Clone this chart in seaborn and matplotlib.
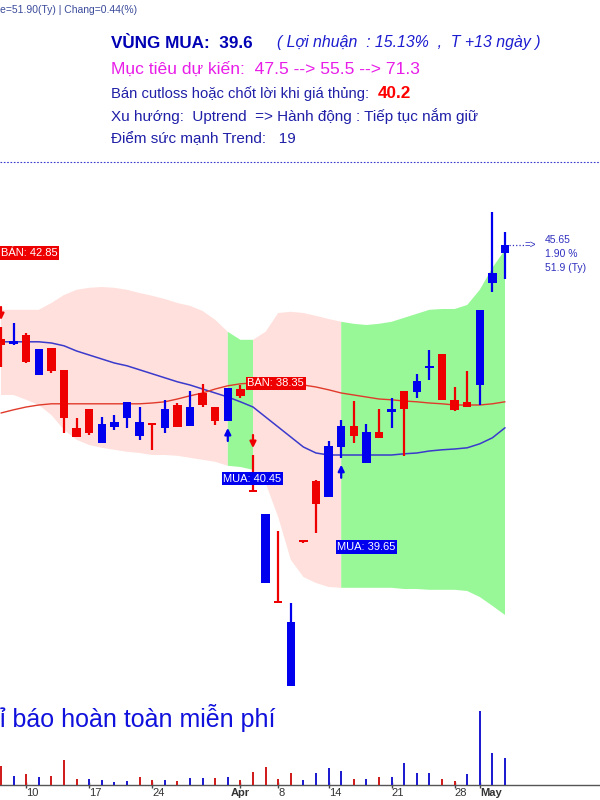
import numpy as np
import pandas as pd
import matplotlib
matplotlib.use("Agg")
import matplotlib.pyplot as plt
import seaborn as sns

# ---- values ----
opens  = [43.30, 43.18, 43.40, 42.40, 43.08, 42.53, 41.08, 41.55, 40.70, 41.10,
          41.33, 40.88, 41.20, 41.08, 41.65, 41.13, 41.95, 41.60, 41.25, 42.05,
          39.50, 37.20, 36.73, 34.63, 38.25, 39.75, 39.35, 40.60, 41.13, 40.20,
          40.98, 41.48, 42.00, 41.98, 42.58, 42.93, 41.78, 41.73, 42.15, 44.70, 45.45]
highs  = [43.60, 43.70, 43.45, 43.05, 43.08, 42.53, 41.33, 41.55, 41.35, 41.40,
          41.73, 41.60, 41.20, 41.78, 41.70, 42.00, 42.18, 41.60, 42.08, 42.15,
          40.40, 38.93, 38.50, 36.70, 38.28, 39.78, 40.75, 41.28, 41.75, 41.18,
          41.55, 41.83, 42.00, 42.43, 43.03, 42.93, 42.10, 42.50, 44.03, 46.48, 45.98]
lows   = [42.60, 43.15, 42.70, 42.40, 42.45, 40.95, 40.85, 40.90, 40.70, 41.03,
          41.08, 40.78, 40.53, 40.95, 41.10, 41.13, 41.60, 41.15, 41.25, 41.83,
          39.48, 37.20, 36.70, 34.63, 38.20, 38.45, 39.35, 40.33, 40.70, 40.20,
          40.83, 41.08, 40.38, 41.83, 42.28, 41.78, 41.50, 41.60, 41.65, 44.48, 44.80]
closes = [43.15, 43.25, 42.73, 43.05, 42.50, 41.33, 40.85, 40.95, 41.18, 41.23,
          41.73, 41.23, 41.15, 41.55, 41.10, 41.60, 41.65, 41.25, 42.08, 41.88,
          39.48, 38.93, 36.70, 36.23, 38.23, 39.18, 40.63, 41.13, 40.88, 40.98,
          40.83, 41.55, 41.55, 42.25, 42.63, 41.78, 41.53, 41.60, 44.03, 44.95, 45.65]

band_upper = [44.03, 44.03, 44.03, 44.03, 44.20, 44.40, 44.53, 44.58, 44.60, 44.58,
              44.53, 44.45, 44.38, 44.30, 44.20, 44.13, 44.00, 43.78, 43.48, 43.28,
              43.28, 43.48, 43.95, 43.98, 43.95, 43.88, 43.80, 43.73, 43.68, 43.65,
              43.68, 43.73, 43.83, 43.93, 44.03, 44.05, 44.05, 44.15, 44.53, 45.08, 45.53]
band_lower = [41.90, 41.90, 41.78, 41.65, 41.40, 41.03, 40.78, 40.65, 40.58, 40.53,
              40.48, 40.45, 40.40, 40.40, 40.38, 40.33, 40.28, 40.23, 40.13, 40.10,
              40.03, 39.70, 38.85, 37.78, 37.35, 37.20, 37.10, 37.08, 37.08, 37.08,
              37.08, 37.08, 37.05, 37.05, 37.03, 37.03, 37.03, 37.00, 36.85, 36.63, 36.40]
green_spans = [(18, 20), (27, 40)]

ma_fast = [43.23, 43.23, 43.23, 43.23, 43.20, 43.13, 43.00, 42.90, 42.80, 42.70,
           42.63, 42.53, 42.43, 42.33, 42.23, 42.15, 42.05, 41.95, 41.85, 41.73,
           41.60, 41.35, 41.10, 40.85, 40.60, 40.45, 40.40, 40.40, 40.40, 40.40,
           40.40, 40.40, 40.43, 40.45, 40.50, 40.53, 40.55, 40.58, 40.68, 40.83, 41.08]
ma_slow = [41.45, 41.53, 41.60, 41.65, 41.68, 41.68, 41.68, 41.68, 41.68, 41.68,
           41.68, 41.68, 41.70, 41.73, 41.80, 41.88, 41.95, 42.05, 42.13, 42.18,
           42.20, 42.20, 42.20, 42.18, 42.15, 42.10, 42.03, 41.95, 41.90, 41.85,
           41.80, 41.78, 41.75, 41.73, 41.70, 41.68, 41.65, 41.65, 41.65, 41.68, 41.73]

volume = [36.5, 17.3, 21.1, 15.4, 17.3, 48.1, 11.5, 11.5, 9.6, 5.8,
          7.7, 15.4, 9.6, 9.6, 7.7, 13.5, 13.5, 13.5, 15.4, 9.6,
          25.0, 34.6, 11.5, 23.1, 9.6, 23.1, 32.7, 26.9, 11.5, 11.5,
          15.4, 15.4, 42.3, 23.1, 23.1, 11.5, 7.7, 21.1, 142.2, 61.5, 51.9]
vol_side = list("rbrbrrrbbbbrrbrbbrbrrrrrbbbbrbrbbbbrrbbbb")

tick_pos = [2, 7, 12, 19, 22, 26, 31, 36, 38]
tick_labels = ["10", "17", "24", "Apr", "8", "14", "21", "28", "May"]

sell_idx = [0, 20]
buy_idx = [18, 27]
signal_labels = [("BÁN: 42.85", 0.0, 45.45, "sell"),
                 ("BÁN: 38.35", 19.55, 42.19, "sell"),
                 ("MUA: 40.45", 17.65, 39.81, "buy"),
                 ("MUA: 39.65", 26.7, 38.10, "buy")]

header_lines = [
    ("VÙNG MUA:  39.6", 111, 43, "#0000b4", "bold", "normal", 12.3),
    ("( Lợi nhuận  : 15.13%  ,  T +13 ngày )", 277, 43, "#1c1cd0", "normal", "italic", 11.4),
    ("Mục tiêu dự kiến:  47.5 --> 55.5 --> 71.3", 111, 69, "#e81ee8", "normal", "normal", 12.6),
    ("Bán cutloss hoặc chốt lời khi giá thủng:", 111, 94, "#1f1fa8", "normal", "normal", 10.6),
    ("40.2", 378, 94, "#ff0000", "bold", "normal", 12.3),
    ("Xu hướng:  Uptrend  => Hành động : Tiếp tục nắm giữ", 111, 116, "#1f1fa8", "normal", "normal", 11),
    ("Điểm sức mạnh Trend:   19", 111, 139, "#1f1fa8", "normal", "normal", 11),
]

RED = "#ee0000"
BLUE = "#0000ee"

sns.set_theme(style="white")
plt.rcParams["font.family"] = ["Liberation Sans", "DejaVu Sans"]

df = pd.DataFrame({"open": opens, "high": highs, "low": lows, "close": closes,
                   "up": band_upper, "dn": band_lower, "fast": ma_fast, "slow": ma_slow,
                   "vol": volume, "vside": vol_side})
df["i"] = np.arange(len(df))
df["col"] = np.where(df["close"] > df["open"], BLUE, RED)

fig = plt.figure(figsize=(6, 8), dpi=100)
fig.patch.set_facecolor("white")

# price panel (y 165..700 px)
ax = fig.add_axes([0, 0.125, 1, 0.66875])

green = np.zeros(len(df), bool)
for a, b in green_spans:
    green[a:b + 1] = True
pink = ~green
for a, b in green_spans:
    pink[a] = True
    pink[b] = True
ax.fill_between(df["i"], df["dn"], df["up"], where=pink, color="#ffe0dc", lw=0, zorder=1)
ax.fill_between(df["i"], df["dn"], df["up"], where=green, color="#98f898", lw=0, zorder=1)

sns.lineplot(x=df["i"], y=df["fast"], color="#3a3acc", lw=1.1, ax=ax, zorder=2)
sns.lineplot(x=df["i"], y=df["slow"], color="#e03a2a", lw=1.0, ax=ax, zorder=2)
ax.set_xlim(-0.079, 47.54)
ax.set_ylim(34.275, 47.65)
ax.axis("off")

# candles
ax.vlines(df["i"], df["low"], df["high"], colors=df["col"], lw=1.6, zorder=3)
body_lo = np.minimum(df["open"], df["close"])
body_h = np.maximum((df["open"] - df["close"]).abs(), 0.04)
ax.bar(df["i"], body_h, bottom=body_lo, width=0.68, color=df["col"], lw=0, zorder=4)

# signal arrows
for i in sell_idx:
    ax.annotate("", xy=(i, df["high"][i]), xytext=(0, 20), textcoords="offset pixels",
                arrowprops=dict(arrowstyle="-|>", color=RED, lw=1.6, mutation_scale=9,
                                shrinkA=0, shrinkB=5), zorder=5)
for i in buy_idx:
    ax.annotate("", xy=(i, df["low"][i]), xytext=(0, -20), textcoords="offset pixels",
                arrowprops=dict(arrowstyle="-|>", color=BLUE, lw=1.6, mutation_scale=9,
                                shrinkA=0, shrinkB=5), zorder=5)

for txt, x, y, kind in signal_labels:
    fc = RED if kind == "sell" else BLUE
    ax.text(x, y, txt, color="white", fontsize=8, ha="left", va="center", zorder=6,
            bbox=dict(boxstyle="square,pad=0.15", fc=fc, ec="none"))

# last price note
last = len(df) - 1
c_last = df["close"][last]
ax.plot([last + 0.3, last + 1.55], [c_last, c_last], ls=":", color="#3030c0", lw=0.9, zorder=5)
ax.annotate("=>", xy=(last, c_last), xytext=(20, 0), textcoords="offset pixels",
            color="#3030c0", fontsize=7, va="center", ha="left")
note = [f"{c_last:.2f}", "1.90 %", f"{volume[last]:.1f} (Ty)"]
for k, s in enumerate(note):
    ax.annotate(s, xy=(last, c_last), xytext=(40, 5 - 14 * k), textcoords="offset pixels",
                color="#3030c0", fontsize=7.5, va="center", ha="left")

# volume panel (baseline near the bottom)
vax = fig.add_axes([0, 15 / 800, 1, 100 / 800])
vax.patch.set_alpha(0)
sns.barplot(x=df["i"], y=df["vol"], hue=df["vside"], palette={"r": RED, "b": BLUE},
            native_scale=True, width=0.17, dodge=False, legend=False, errorbar=None,
            ax=vax, zorder=3, linewidth=0)
vax.set_xlim(-0.079, 47.54)
vax.set_ylim(0, 192.2)
for s in ["top", "left", "right"]:
    vax.spines[s].set_visible(False)
vax.spines["bottom"].set_color("#555555")
vax.spines["bottom"].set_linewidth(1.0)
vax.set_yticks([])
vax.set_xlabel("")
vax.set_ylabel("")
vax.set_xticks(tick_pos)
vax.set_xticklabels(tick_labels)
vax.tick_params(axis="x", direction="inout", length=5, width=1, color="#444444",
                pad=0, labelsize=8, labelcolor="#333333", bottom=True)
for lab in vax.get_xticklabels():
    if lab.get_text() in ("Apr", "May"):
        lab.set_fontweight("bold")
    if lab.get_text() != "Apr":
        lab.set_ha("left")

# header / overlay text in pixel coordinates
ov = fig.add_axes([0, 0, 1, 1])
ov.set_xlim(0, 600)
ov.set_ylim(800, 0)
ov.axis("off")
ov.text(0, 10, "e=51.90(Ty) | Chang=0.44(%)", fontsize=7.5, color="#3a4a9a", va="center")
for txt, x, y, col, wt, st, fs in header_lines:
    ov.text(x, y, txt, color=col, fontweight=wt, style=st, fontsize=fs, va="center")
ov.plot([0, 600], [162, 162], ls=(0, (1.5, 1.5)), color="#3a3ad0", lw=0.8)
ov.text(0, 718, "ỉ báo hoàn toàn miễn phí", fontsize=18, color="#1111dd", va="center")

fig.savefig("out.png", dpi=100)
